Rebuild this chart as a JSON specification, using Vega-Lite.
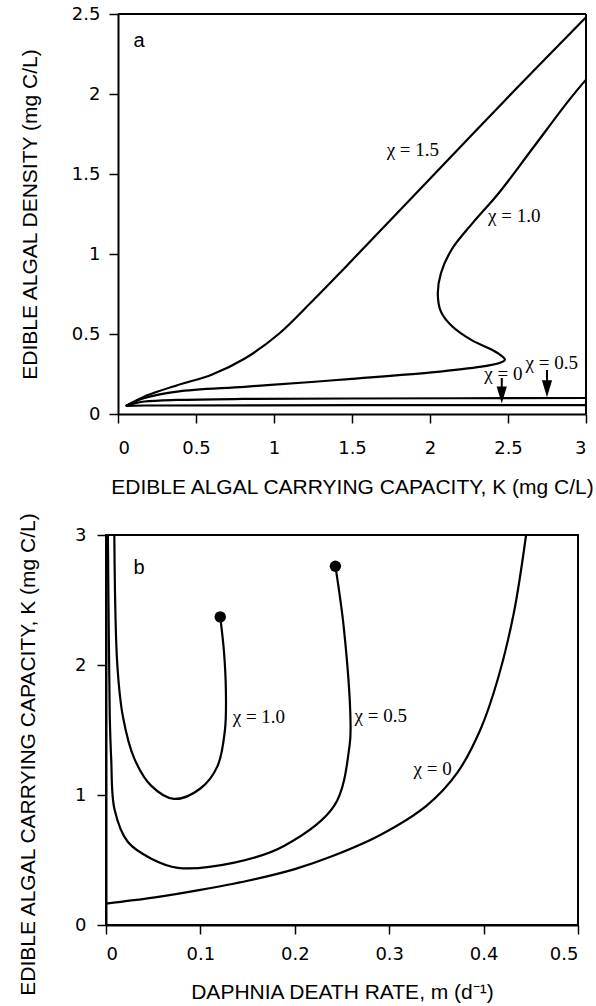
{
  "$schema": "https://vega.github.io/schema/vega-lite/v6.json",
  "padding": {"left": 16, "top": 5, "right": 3, "bottom": 3},
  "background": "white",
  "config": {
    "view": {"stroke": "black", "strokeWidth": 2},
    "axis": {
      "grid": false,
      "domainColor": "black",
      "domainWidth": 2,
      "tickColor": "black",
      "tickWidth": 1.5,
      "tickSize": 9,
      "labelFont": "DejaVu Sans",
      "labelFontSize": 18,
      "labelColor": "black",
      "titleFont": "Liberation Sans",
      "titleFontSize": 21,
      "titleFontWeight": "normal",
      "titleColor": "black"
    }
  },
  "datasets": {
    "curvesA": [
      {"series": "1.5", "i": 0, "K": 0.05, "A": 0.05},
      {"series": "1.5", "i": 1, "K": 0.1, "A": 0.075},
      {"series": "1.5", "i": 2, "K": 0.17, "A": 0.11},
      {"series": "1.5", "i": 3, "K": 0.38, "A": 0.18},
      {"series": "1.5", "i": 4, "K": 0.6, "A": 0.245},
      {"series": "1.5", "i": 5, "K": 0.81, "A": 0.345},
      {"series": "1.5", "i": 6, "K": 1.03, "A": 0.5},
      {"series": "1.5", "i": 7, "K": 1.24, "A": 0.7},
      {"series": "1.5", "i": 8, "K": 1.45, "A": 0.91},
      {"series": "1.5", "i": 9, "K": 2.0, "A": 1.47},
      {"series": "1.5", "i": 10, "K": 2.48, "A": 1.96},
      {"series": "1.5", "i": 11, "K": 3.0, "A": 2.48},
      {"series": "1.0", "i": 0, "K": 0.05, "A": 0.05},
      {"series": "1.0", "i": 1, "K": 0.1, "A": 0.075},
      {"series": "1.0", "i": 2, "K": 0.17, "A": 0.1},
      {"series": "1.0", "i": 3, "K": 0.38, "A": 0.14},
      {"series": "1.0", "i": 4, "K": 0.81, "A": 0.17},
      {"series": "1.0", "i": 5, "K": 1.24, "A": 0.2},
      {"series": "1.0", "i": 6, "K": 1.5, "A": 0.22},
      {"series": "1.0", "i": 7, "K": 2.01, "A": 0.26},
      {"series": "1.0", "i": 8, "K": 2.33, "A": 0.296},
      {"series": "1.0", "i": 9, "K": 2.45, "A": 0.32},
      {"series": "1.0", "i": 10, "K": 2.48, "A": 0.34},
      {"series": "1.0", "i": 11, "K": 2.45, "A": 0.37},
      {"series": "1.0", "i": 12, "K": 2.4, "A": 0.4},
      {"series": "1.0", "i": 13, "K": 2.27, "A": 0.46},
      {"series": "1.0", "i": 14, "K": 2.14, "A": 0.55},
      {"series": "1.0", "i": 15, "K": 2.07, "A": 0.64},
      {"series": "1.0", "i": 16, "K": 2.05, "A": 0.75},
      {"series": "1.0", "i": 17, "K": 2.07, "A": 0.88},
      {"series": "1.0", "i": 18, "K": 2.14, "A": 1.03},
      {"series": "1.0", "i": 19, "K": 2.27, "A": 1.19},
      {"series": "1.0", "i": 20, "K": 2.44, "A": 1.38},
      {"series": "1.0", "i": 21, "K": 2.65, "A": 1.65},
      {"series": "1.0", "i": 22, "K": 2.89, "A": 1.96},
      {"series": "1.0", "i": 23, "K": 3.0, "A": 2.09},
      {"series": "0.5", "i": 0, "K": 0.05, "A": 0.05},
      {"series": "0.5", "i": 1, "K": 0.1, "A": 0.065},
      {"series": "0.5", "i": 2, "K": 0.17, "A": 0.078},
      {"series": "0.5", "i": 3, "K": 0.38, "A": 0.088},
      {"series": "0.5", "i": 4, "K": 0.8, "A": 0.094},
      {"series": "0.5", "i": 5, "K": 1.5, "A": 0.097},
      {"series": "0.5", "i": 6, "K": 3.0, "A": 0.1},
      {"series": "0", "i": 0, "K": 0.05, "A": 0.05},
      {"series": "0", "i": 1, "K": 0.17, "A": 0.053},
      {"series": "0", "i": 2, "K": 3.0, "A": 0.055}
    ],
    "frameA": [
      {"K1": 0, "K2": 3, "A1": 2.5, "A2": 2.5},
      {"K1": 3, "K2": 3, "A1": 0, "A2": 2.5}
    ],
    "arrowsA": [
      {"K": 2.46, "A1": 0.225, "A2": 0.13, "Ah": 0.118},
      {"K": 2.75, "A1": 0.275, "A2": 0.17, "Ah": 0.158}
    ],
    "labelsA": [
      {"K": 1.89, "A": 1.65, "t": "χ = 1.5"},
      {"K": 2.54, "A": 1.24, "t": "χ = 1.0"},
      {"K": 2.47, "A": 0.25, "t": "χ = 0"},
      {"K": 2.78, "A": 0.32, "t": "χ = 0.5"}
    ],
    "letterA": [{"K": 0.135, "A": 2.33, "t": "a"}],
    "curvesB": [
      {"series": "0", "i": 0, "m": 0.0, "K": 0.165},
      {"series": "0", "i": 1, "m": 0.05, "K": 0.21},
      {"series": "0", "i": 2, "m": 0.1, "K": 0.27},
      {"series": "0", "i": 3, "m": 0.15, "K": 0.34},
      {"series": "0", "i": 4, "m": 0.2, "K": 0.43},
      {"series": "0", "i": 5, "m": 0.24, "K": 0.53},
      {"series": "0", "i": 6, "m": 0.29, "K": 0.69},
      {"series": "0", "i": 7, "m": 0.34, "K": 0.92},
      {"series": "0", "i": 8, "m": 0.372, "K": 1.17},
      {"series": "0", "i": 9, "m": 0.397, "K": 1.51},
      {"series": "0", "i": 10, "m": 0.415, "K": 1.89},
      {"series": "0", "i": 11, "m": 0.432, "K": 2.4},
      {"series": "0", "i": 12, "m": 0.445, "K": 3.0},
      {"series": "0.5", "i": 0, "m": 0.002, "K": 3.0},
      {"series": "0.5", "i": 1, "m": 0.003, "K": 2.2},
      {"series": "0.5", "i": 2, "m": 0.004, "K": 1.6},
      {"series": "0.5", "i": 3, "m": 0.0055, "K": 1.28},
      {"series": "0.5", "i": 4, "m": 0.009, "K": 0.89},
      {"series": "0.5", "i": 5, "m": 0.023, "K": 0.64},
      {"series": "0.5", "i": 6, "m": 0.048, "K": 0.51},
      {"series": "0.5", "i": 7, "m": 0.076, "K": 0.44},
      {"series": "0.5", "i": 8, "m": 0.136, "K": 0.48},
      {"series": "0.5", "i": 9, "m": 0.189, "K": 0.61},
      {"series": "0.5", "i": 10, "m": 0.242, "K": 0.92},
      {"series": "0.5", "i": 11, "m": 0.258, "K": 1.38},
      {"series": "0.5", "i": 12, "m": 0.259, "K": 1.57},
      {"series": "0.5", "i": 13, "m": 0.252, "K": 2.28},
      {"series": "0.5", "i": 14, "m": 0.243, "K": 2.76},
      {"series": "1.0", "i": 0, "m": 0.0088, "K": 3.0},
      {"series": "1.0", "i": 1, "m": 0.012, "K": 2.0},
      {"series": "1.0", "i": 2, "m": 0.018, "K": 1.6},
      {"series": "1.0", "i": 3, "m": 0.03, "K": 1.28},
      {"series": "1.0", "i": 4, "m": 0.048, "K": 1.07},
      {"series": "1.0", "i": 5, "m": 0.072, "K": 0.97},
      {"series": "1.0", "i": 6, "m": 0.1, "K": 1.05},
      {"series": "1.0", "i": 7, "m": 0.118, "K": 1.22},
      {"series": "1.0", "i": 8, "m": 0.126, "K": 1.5},
      {"series": "1.0", "i": 9, "m": 0.127, "K": 1.8},
      {"series": "1.0", "i": 10, "m": 0.125, "K": 2.1},
      {"series": "1.0", "i": 11, "m": 0.121, "K": 2.37}
    ],
    "dotsB": [
      {"m": 0.121, "K": 2.37},
      {"m": 0.243, "K": 2.76}
    ],
    "labelsB": [
      {"m": 0.162, "K": 1.6, "t": "χ = 1.0"},
      {"m": 0.291, "K": 1.61, "t": "χ = 0.5"},
      {"m": 0.346, "K": 1.2, "t": "χ = 0"}
    ],
    "letterB": [{"m": 0.035, "K": 2.75, "t": "b"}]
  },
  "vconcat": [
    {
      "width": 480,
      "height": 400,
      "view": {"stroke": null},
      "layer": [
        {
          "data": {"name": "curvesA"},
          "mark": {"type": "line", "color": "black", "strokeWidth": 2.2, "interpolate": "catmull-rom"},
          "encoding": {
            "x": {
              "field": "K", "type": "quantitative",
              "scale": {"domain": [0, 3], "range": [12, 480], "nice": false, "zero": false},
              "axis": {
                "values": [0, 0.5, 1, 1.5, 2, 2.5, 3], "format": "~g",
                "labelPadding": 16, "titlePadding": 19,
                "title": "EDIBLE ALGAL CARRYING CAPACITY, K (mg C/L)"
              }
            },
            "y": {
              "field": "A", "type": "quantitative",
              "scale": {"domain": [0, 2.5], "nice": false, "zero": false},
              "axis": {
                "values": [0, 0.5, 1, 1.5, 2, 2.5], "format": "~g",
                "offset": -12,
                "labelPadding": 9, "titlePadding": 31,
                "title": "EDIBLE ALGAL DENSITY (mg C/L)"
              }
            },
            "detail": {"field": "series", "type": "nominal"},
            "order": {"field": "i", "type": "quantitative"}
          }
        },
        {
          "data": {"name": "frameA"},
          "mark": {"type": "rule", "color": "black", "strokeWidth": 2},
          "encoding": {
            "x": {"field": "K1", "type": "quantitative"},
            "x2": {"field": "K2"},
            "y": {"field": "A1", "type": "quantitative"},
            "y2": {"field": "A2"}
          }
        },
        {
          "data": {"name": "arrowsA"},
          "mark": {"type": "rule", "color": "black", "strokeWidth": 2},
          "encoding": {
            "x": {"field": "K", "type": "quantitative"},
            "y": {"field": "A1", "type": "quantitative"},
            "y2": {"field": "A2"}
          }
        },
        {
          "data": {"name": "arrowsA"},
          "mark": {"type": "point", "shape": "M-0.6,-1L0.6,-1L0,1Z", "filled": true, "color": "black", "size": 289, "opacity": 1},
          "encoding": {
            "x": {"field": "K", "type": "quantitative"},
            "y": {"field": "Ah", "type": "quantitative"}
          }
        },
        {
          "data": {"name": "labelsA"},
          "mark": {"type": "text", "font": "Liberation Serif", "fontSize": 19, "color": "black", "align": "center", "baseline": "middle"},
          "encoding": {
            "x": {"field": "K", "type": "quantitative"},
            "y": {"field": "A", "type": "quantitative"},
            "text": {"field": "t"}
          }
        },
        {
          "data": {"name": "letterA"},
          "mark": {"type": "text", "font": "Liberation Sans", "fontSize": 20, "color": "black", "align": "center", "baseline": "middle"},
          "encoding": {
            "x": {"field": "K", "type": "quantitative"},
            "y": {"field": "A", "type": "quantitative"},
            "text": {"field": "t"}
          }
        }
      ]
    },
    {
      "width": 472,
      "height": 390,
      "layer": [
        {
          "data": {"name": "curvesB"},
          "mark": {"type": "line", "color": "black", "strokeWidth": 2.2, "interpolate": "catmull-rom"},
          "encoding": {
            "x": {
              "field": "m", "type": "quantitative",
              "scale": {"domain": [0, 0.5], "nice": false, "zero": false},
              "axis": {
                "values": [0, 0.1, 0.2, 0.3, 0.4, 0.5], "format": "~g",
                "labelPadding": 11, "titlePadding": 18,
                "title": "DAPHNIA DEATH RATE, m (d⁻¹)"
              }
            },
            "y": {
              "field": "K", "type": "quantitative",
              "scale": {"domain": [0, 3], "nice": false, "zero": false},
              "axis": {
                "values": [0, 1, 2, 3], "format": "~g",
                "labelPadding": 11, "titlePadding": 36, "titleY": 219,
                "title": "EDIBLE ALGAL CARRYING CAPACITY, K (mg C/L)"
              }
            },
            "detail": {"field": "series", "type": "nominal"},
            "order": {"field": "i", "type": "quantitative"}
          }
        },
        {
          "data": {"name": "dotsB"},
          "mark": {"type": "circle", "color": "black", "size": 130, "opacity": 1},
          "encoding": {
            "x": {"field": "m", "type": "quantitative"},
            "y": {"field": "K", "type": "quantitative"}
          }
        },
        {
          "data": {"name": "labelsB"},
          "mark": {"type": "text", "font": "Liberation Serif", "fontSize": 19, "color": "black", "align": "center", "baseline": "middle"},
          "encoding": {
            "x": {"field": "m", "type": "quantitative"},
            "y": {"field": "K", "type": "quantitative"},
            "text": {"field": "t"}
          }
        },
        {
          "data": {"name": "letterB"},
          "mark": {"type": "text", "font": "Liberation Sans", "fontSize": 20, "color": "black", "align": "center", "baseline": "middle"},
          "encoding": {
            "x": {"field": "m", "type": "quantitative"},
            "y": {"field": "K", "type": "quantitative"},
            "text": {"field": "t"}
          }
        }
      ]
    }
  ],
  "spacing": 13
}
